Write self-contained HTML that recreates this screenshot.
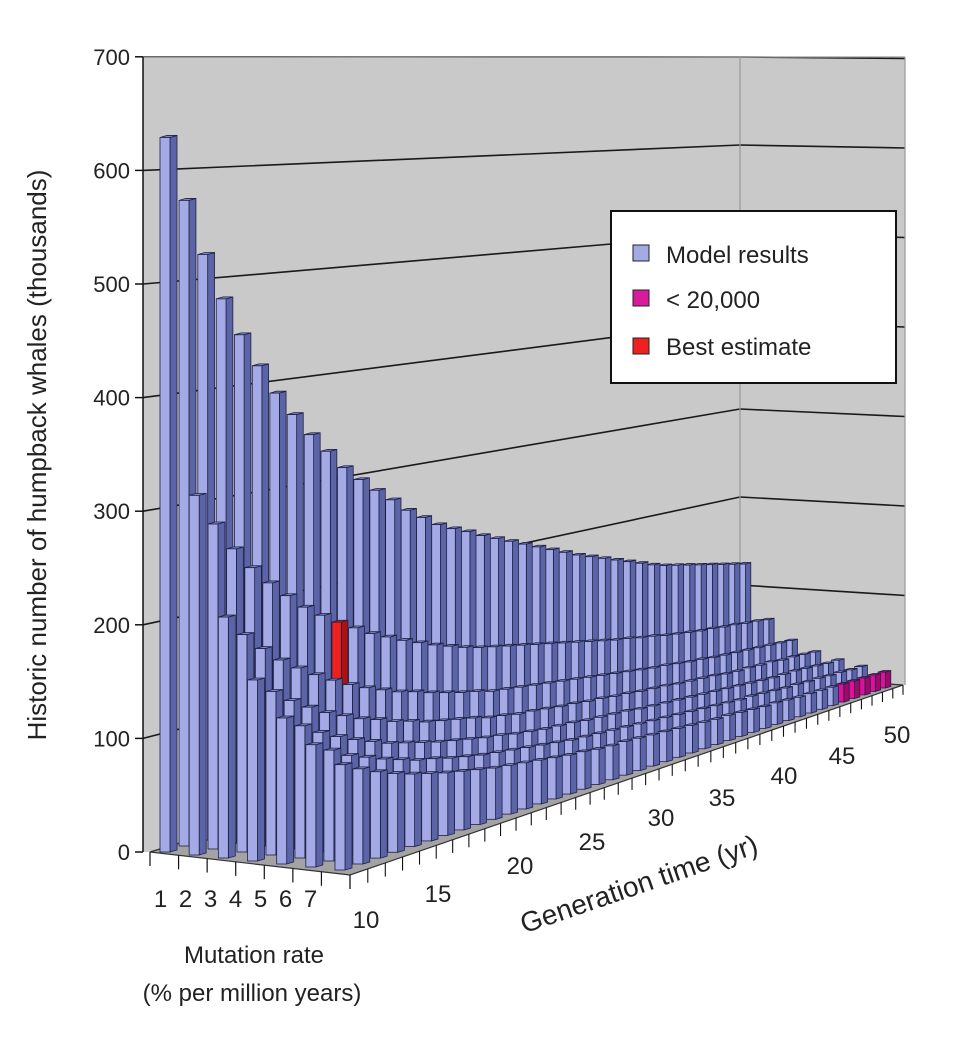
<!DOCTYPE html>
<html><head><meta charset="utf-8">
<style>
html,body{margin:0;padding:0;background:#fff;}
svg{display:block;font-family:"Liberation Sans",Arial,sans-serif;}
</style></head>
<body>
<svg id="chart" width="964" height="1064" viewBox="0 0 964 1064" xmlns="http://www.w3.org/2000/svg">
  <g id="walls"></g>
  <g id="floor"></g>
  <g id="bars"></g>
  <g id="axes"></g>
  <text x="0" y="0" transform="translate(46,455) rotate(-90)" text-anchor="middle" font-size="26" fill="#222">Historic number of humpback whales (thousands)</text>
  <text x="0" y="0" transform="translate(642,893) rotate(-19)" text-anchor="middle" font-size="28" fill="#222">Generation time (yr)</text>
  <text x="254" y="963" text-anchor="middle" font-size="24" fill="#222">Mutation rate</text>
  <text x="252" y="1001" text-anchor="middle" font-size="24" fill="#222">(% per million years)</text>
  <g>
    <rect x="611" y="211" width="285" height="172" fill="#fff" stroke="#111" stroke-width="2"/>
    <rect x="633" y="245" width="16" height="16" fill="#a4aae6" stroke="#222" stroke-width="1"/>
    <text x="666" y="263" font-size="24" fill="#222">Model results</text>
    <rect x="633" y="290" width="16" height="16" fill="#d81b9a" stroke="#222" stroke-width="1"/>
    <text x="666" y="308" font-size="24" fill="#222">&lt; 20,000</text>
    <rect x="633" y="338" width="16" height="16" fill="#ee2020" stroke="#222" stroke-width="1"/>
    <text x="666" y="355" font-size="24" fill="#222">Best estimate</text>
  </g>
</svg>
<script>
const mutationRates = [1,2,3,4,5,6,7];
const generationTicks = [10,15,20,25,30,35,40,45,50];
const yTicks = [0,100,200,300,400,500,600,700];
const row1 = [629,573,524,483,449,419,392,370,349,331,313,299,286,274,261,251,241,234,228,221,215,209,203,197,191,185,179,174,169,164,159,154,149,145,142,139,136,133,130,127,124];
const row2 = [315,287,262,242,225,210,196,185,175,166,157,150,143,137,131,126,121,117,114,111,108,105,102,99,96,93,90,87,85,82,80,77,75,73,71,70,68,67,65,64,62];
const row3 = [210,191,175,161,150,140,131,123,116,110,104,100,95,91,87,84,80,78,76,74,72,70,68,66,64,62,60,58,56,55,53,51,50,48,47,46,45,44,43,42,41];
const row4 = [157,143,131,121,112,105,98,93,87,83,78,75,72,69,65,63,60,59,57,55,54,52,51,49,48,46,45,44,42,41,40,39,37,36,36,35,35,33,33,32,31];
const row5 = [126,115,105,97,90,84,78,74,70,66,63,60,57,55,52,50,48,47,46,44,43,42,41,39,38,37,36,35,34,33,32,31,30,29,28,28,28,27,26,25,25];
const row6 = [105,96,87,81,75,70,65,62,58,55,52,50,48,46,44,42,40,39,38,37,36,35,34,33,32,31,30,29,28,27,27,26,25,24,24,23,23,22,22,21,21];
const row7 = [90,82,75,69,64,60,56,53,50,47,45,43,41,39,37,36,34,33,33,32,31,30,29,28,27,26,26,25,24,23,23,22,21,21,20.7,20.3,19.9,19.4,19.0,18.6,18.1];
const rows = [row1,row2,row3,row4,row5,row6,row7];
const bestRow = 1, bestCol = 8;
const lowThreshold = 20;

const NS = "http://www.w3.org/2000/svg";
const K = 0.33;
const BL=[160,852], BR=[738,670], FL=[335,870], FR=[878,688];
const nCols = 41;
function up(c){const u=c/(nCols-1);return u*(1+K)/(1+K*u);}
function floorPt(c,r){
  const a=up(c), v=r/(mutationRates.length-1);
  const x=BL[0]+a*(BR[0]-BL[0])+v*(FL[0]-BL[0])+a*v*(FR[0]-FL[0]-BR[0]+BL[0]);
  const y=BL[1]+a*(BR[1]-BL[1])+v*(FL[1]-BL[1])+a*v*(FR[1]-FL[1]-BR[1]+BL[1]);
  return [x,y];
}
function scaleAt(c,r){const u=c/(nCols-1), v=r/(mutationRates.length-1);return 1.136*(1+0.03*v)/(1+K*u);}
function depthF(c){const u=c/(nCols-1);return 1/(1+K*u);}
function mk(tag,attrs,parent){const e=document.createElementNS(NS,tag);for(const k in attrs)e.setAttribute(k,attrs[k]);parent.appendChild(e);return e;}

// walls
const walls=document.getElementById('walls');
let e;
e=mk('polygon',{points:"143,57 740,57 740,673 150,852 143,852",fill:"#c9c9c9",stroke:"none"},walls);


e=mk('polygon',{points:"740,57 905,57 905,685 740,673",fill:"#c9c9c9",stroke:"none"},walls);


yTicks.forEach(v=>{
  if(v===0) return;
  const yl=852-v*1.136, ym=673-v*0.88, yr=685-v*0.895;
  const g=mk('polyline',{points:`143,${yl} 740,${ym} 905,${yr}`,fill:"none",stroke:"#1a1a1a","stroke-width":1.6},walls);
  
  
});
e=mk('line',{x1:740,y1:57,x2:740,y2:673,stroke:"#9a9a9a","stroke-width":1.2},walls);


e=mk('line',{x1:905,y1:57,x2:905,y2:685,stroke:"#9a9a9a","stroke-width":1.2},walls);


e=mk('line',{x1:143,y1:57,x2:905,y2:57,stroke:"#9a9a9a","stroke-width":1.2},walls);



// floor
const floor=document.getElementById('floor');
e=mk('polygon',{points:"150,852 740,673 903,685 350,875",fill:"#a3a3a3",stroke:"#333","stroke-width":1.2},floor);



// bars
const bars=document.getElementById('bars');
for(let r=0;r<rows.length;r++){
  for(let c=nCols-1;c>=0;c--){
    const val=rows[r][c];
    const [x,base]=floorPt(c,r);
    const top=base-val*scaleAt(c,r);
    const f=depthF(c), fw=10*f, sw=7*f, rise=2*f;
    let fc="#a4aae6", sc="#5b64a6", tc="#7f87cc";
    if(r===bestRow&&c===bestCol){fc="#ee2020";sc="#b01212";tc="#d01818";}
    else if(val<lowThreshold){fc="#e0109a";sc="#a0086c";tc="#c00c84";}
    const g=mk('g',{},bars);
    
    
    mk('polygon',{points:`${x+fw},${base} ${x+fw},${top} ${x+fw+sw},${top-rise} ${x+fw+sw},${base-rise}`,fill:sc,stroke:"#1f2244","stroke-width":0.8},g);
    mk('polygon',{points:`${x},${top} ${x+fw},${top} ${x+fw+sw},${top-rise} ${x+sw},${top-rise}`,fill:tc,stroke:"#1f2244","stroke-width":0.8},g);
    mk('rect',{x:x,y:top,width:fw,height:base-top,fill:fc,stroke:"#1f2244","stroke-width":0.8},g);
  }
}

// axes
const axes=document.getElementById('axes');
e=mk('line',{x1:143,y1:57,x2:143,y2:852,stroke:"#111","stroke-width":1.5},axes);


yTicks.forEach(v=>{
  const y=852-v*1.136;
  const t=mk('line',{x1:135,y1:y,x2:143,y2:y,stroke:"#111","stroke-width":1.5},axes);
  
  
  const l=mk('text',{x:130,y:y+8,"text-anchor":"end","font-size":22,fill:"#222"},axes);
  l.textContent=v;
  
  
});
// depth axis ticks & labels
for(let i=0;i<=mutationRates.length;i++){
  const t0=i/mutationRates.length;
  const x=150+t0*200, y=852+t0*23;
  const t=mk('line',{x1:x,y1:y,x2:x,y2:y+14,stroke:"#111","stroke-width":1.2},axes);
  
  
}
mutationRates.forEach((m,i)=>{
  const t0=(i+0.5)/mutationRates.length;
  const l=mk('text',{x:148+t0*175,y:907,"text-anchor":"middle","font-size":24,fill:"#222"},axes);
  l.textContent=m;
  
  
});
// generation axis ticks
for(let c=0;c<=nCols;c++){
  const a=c/nCols, u2=a*(1+K)/(1+K*a);
  const x=350+u2*553, y=875-u2*190;
  const t=mk('line',{x1:x,y1:y,x2:x,y2:y+14*(1-0.3*u2),stroke:"#111","stroke-width":1.1},axes);
  
  
}
const genLabelPos=[[366,928],[438,902],[520,874],[592,850],[661,826],[722,806],[784,784],[842,764],[897,743]];
generationTicks.forEach((g,i)=>{
  const l=mk('text',{x:genLabelPos[i][0],y:genLabelPos[i][1],"text-anchor":"middle","font-size":24,fill:"#222"},axes);
  l.textContent=g;
  
  
});
</script>
</body></html>
